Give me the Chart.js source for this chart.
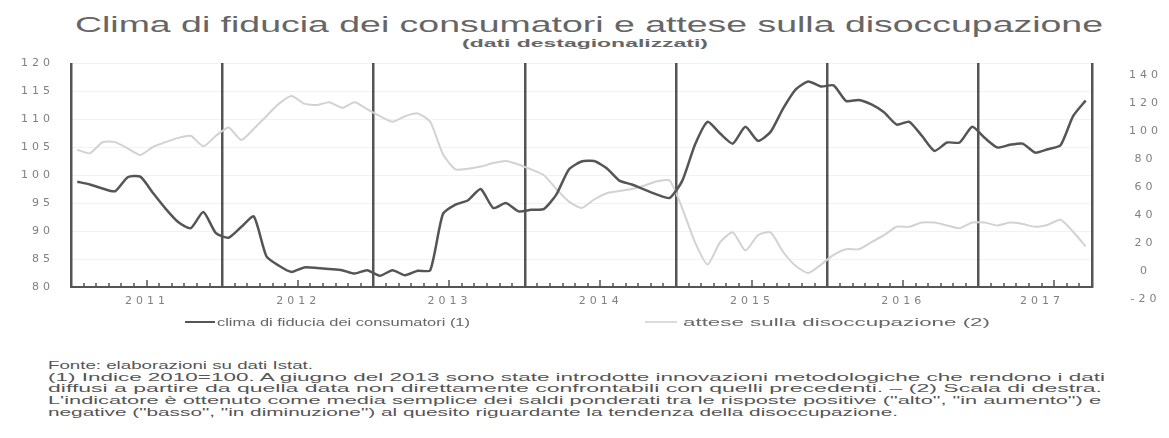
<!DOCTYPE html>
<html lang="it">
<head>
<meta charset="utf-8">
<title>Clima di fiducia dei consumatori e attese sulla disoccupazione</title>
<script src="https://cdn.jsdelivr.net/npm/chart.js@4.4.1/dist/chart.umd.min.js"></script>
<style>
  html, body { margin: 0; padding: 0; background: #fff; }
  body { width: 1169px; height: 438px; position: relative; overflow: hidden;
         font-family: "Liberation Sans", Arial, sans-serif; }
  #chart { position: absolute; left: 0; top: 0; }
  .fit { position: absolute; white-space: nowrap; transform-origin: 0 50%; }
  .titolo { font-size: 22px; line-height: 22px; color: #666; }
  .sottotitolo { font-size: 10px; line-height: 10px; font-weight: bold; color: #666; }
  .legenda { font-size: 11px; line-height: 11px; color: #666; }
  .nota { font-size: 10.5px; line-height: 12px; color: #555; }
  .campione { position: absolute; height: 0; }
</style>
</head>
<body>

<div class="fit titolo" style="left:75px; top:14px" data-w="1028">Clima di fiducia dei consumatori e attese sulla disoccupazione</div>
<div class="fit sottotitolo" style="left:462px; top:39px" data-w="246">(dati destagionalizzati)</div>

<canvas id="chart" width="1169" height="340"></canvas>

<!-- legenda -->
<div class="campione" style="left:185px; top:321px; width:30px; border-top:2.5px solid #555"></div>
<div class="fit legenda" style="left:217px; top:317px" data-w="253">clima di fiducia dei consumatori (1)</div>
<div class="campione" style="left:645px; top:321px; width:32px; border-top:2px solid #dcdcdc"></div>
<div class="fit legenda" style="left:683px; top:317px" data-w="307">attese sulla disoccupazione (2)</div>

<!-- note -->
<div class="fit nota" style="left:48px; top:359px" data-w="265">Fonte: elaborazioni su dati Istat.</div>
<div class="fit nota" style="left:48px; top:371px" data-w="1057">(1) Indice 2010=100. A giugno del 2013 sono state introdotte innovazioni metodologiche che rendono i dati</div>
<div class="fit nota" style="left:48px; top:382px" data-w="1054">diffusi a partire da quella data non direttamente confrontabili con quelli precedenti. – (2) Scala di destra.</div>
<div class="fit nota" style="left:48px; top:394px" data-w="1053">L'indicatore è ottenuto come media semplice dei saldi ponderati tra le risposte positive ("alto", "in aumento") e</div>
<div class="fit nota" style="left:48px; top:406px" data-w="850">negative ("basso", "in diminuzione") al quesito riguardante la tendenza della disoccupazione.</div>

<script>
// ── Dati ──────────────────────────────────────────────────────────
const anni       = [2011, 2012, 2013, 2014, 2015, 2016, 2017];
const nomiMesi   = ["gen", "feb", "mar", "apr", "mag", "giu", "lug", "ago", "set", "ott", "nov", "dic"];
const mesi2017   = 9;   // ultimo dato: settembre 2017

// mese su cui cade l'etichetta dell'anno (bordo sinistro del mese)
const etichetteAnni = ["lug 2011", "lug 2012", "lug 2013", "lug 2014", "lug 2015", "lug 2016", "giu 2017"];

// clima di fiducia dei consumatori (scala di sinistra)
const fiducia = [
  98.8, 98.3, 97.6, 97.1, 99.6, 99.7, 96.8, 94.0, 91.6, 90.5, 93.4, 89.6,        // 2011
  88.8, 90.7, 92.6, 85.5, 83.8, 82.7, 83.5, 83.4, 83.2, 83.0, 82.4, 83.0,        // 2012
  82.0, 83.0, 82.1, 82.9, 83.0, 93.0, 94.7, 95.5, 97.5, 94.1, 95.0, 93.5,        // 2013
  93.8, 93.9, 96.5, 101.0, 102.4, 102.5, 101.2, 99.0, 98.3, 97.4, 96.5, 95.9,    // 2014
  99.0, 105.4, 109.5, 107.4, 105.6, 108.6, 106.1, 107.7, 111.9, 115.3, 116.7, 115.8, // 2015
  116.0, 113.2, 113.4, 112.6, 111.2, 109.0, 109.5, 107.0, 104.3, 105.8, 105.8, 108.6, // 2016
  106.6, 104.9, 105.4, 105.6, 104.0, 104.6, 105.3, 110.5, 113.3                   // 2017
];

// attese sulla disoccupazione (scala di destra)
const disoccupazione = [
  78, 75.5, 83.4, 83.5, 79, 74.3, 80, 83.5, 86.5, 88, 80.5, 88,      // 2011
  94, 85, 93, 102, 111, 116.5, 111, 110, 112, 108, 112, 107,          // 2012
  102, 98, 102, 104, 98, 75, 64, 64.5, 66, 68.5, 70, 67.5,            // 2013
  64, 60, 50, 41, 36.5, 42.5, 47, 48.5, 50, 52.5, 55.5, 56,           // 2014
  36, 12, -4, 12, 19, 6, 17, 19, 5, -5, -10, -4,                      // 2015
  3, 7, 7, 12, 17, 23, 23, 26, 26, 24, 22, 26,                        // 2016
  26, 24, 26, 25, 23, 24.5, 28, 19.5, 9                               // 2017
];

const mesi = [];
anni.forEach(a => nomiMesi.forEach((m, i) => {
  if (a < 2017 || i < mesi2017) mesi.push(m + " " + a);
}));

// ── Testi HTML allargati come nell'originale ──────────────────────
document.querySelectorAll(".fit").forEach(el => {
  const w = el.getBoundingClientRect().width;
  el.style.transform = `scaleX(${+el.dataset.w / w})`;
});

// ── Plugin ────────────────────────────────────────────────────────
const spaziatura = {
  id: "spaziatura",
  beforeUpdate(chart) { chart.ctx.letterSpacing = "4px"; },
  beforeDraw(chart)   { chart.ctx.letterSpacing = "4px"; }
};

// tacche mensili rivolte verso l'alto, più lunghe a metà anno
const tacche = {
  id: "tacche",
  afterDatasetsDraw(chart) {
    const x = chart.scales.x, ctx = chart.ctx, base = chart.chartArea.bottom;
    const passo = x.getPixelForTick(1) - x.getPixelForTick(0);
    ctx.save();
    ctx.strokeStyle = "#555";
    ctx.lineWidth = 1.5;
    ctx.beginPath();
    mesi.forEach((m, i) => {
      if (m.startsWith("gen")) return;
      const px = Math.round(x.getPixelForTick(i) - passo / 2);
      const h = m.startsWith("lug") ? 7 : 4;
      ctx.moveTo(px, base);
      ctx.lineTo(px, base - h);
    });
    ctx.stroke();
    ctx.restore();
  }
};

const fontAssi = { family: "DejaVu Sans", size: 11 };

new Chart(document.getElementById("chart"), {
  type: "line",
  data: {
    labels: mesi,
    datasets: [
      { label: "clima di fiducia dei consumatori (1)", data: fiducia, yAxisID: "y",
        borderColor: "#555", borderWidth: 2.5, pointRadius: 0, tension: 0.2 },
      { label: "attese sulla disoccupazione (2)", data: disoccupazione, yAxisID: "y1",
        borderColor: "#d2d2d2", borderWidth: 2, pointRadius: 0, tension: 0.2 }
    ]
  },
  options: {
    responsive: false,
    animation: false,
    layout: { padding: { top: 63, left: 0, right: 0, bottom: 0 } },
    plugins: { legend: { display: false }, tooltip: { enabled: false } },
    scales: {
      x: {
        offset: true,
        grid: {
          offset: true, drawTicks: false, lineWidth: 2.5,
          color: c => (c.index === undefined || c.index % 12 === 0) ? "#555" : "transparent"
        },
        border: { display: true, color: "#555", width: 2 },
        ticks: {
          autoSkip: false, maxRotation: 0, padding: 8, labelOffset: -6,
          color: "#808080", font: fontAssi,
          callback: (v, i) => etichetteAnni.includes(mesi[i]) ? mesi[i].split(" ")[1] : ""
        },
        afterFit: s => { s.height = 53; }
      },
      y: {
        position: "left", min: 80, max: 120,
        ticks: { stepSize: 5, padding: 17, color: "#808080", font: fontAssi },
        grid: { color: "rgba(0,0,0,0.05)", drawTicks: false },
        border: { display: false },
        afterFit: s => { s.width = 71; }
      },
      y1: {
        position: "right", min: -20, max: 140,
        ticks: { stepSize: 20, padding: 29, crossAlign: "center", labelOffset: 12,
                 color: "#808080", font: fontAssi },
        grid: { display: false },
        border: { display: false },
        afterFit: s => { s.width = 77; }
      }
    }
  },
  plugins: [spaziatura, tacche]
});
</script>
</body>
</html>
